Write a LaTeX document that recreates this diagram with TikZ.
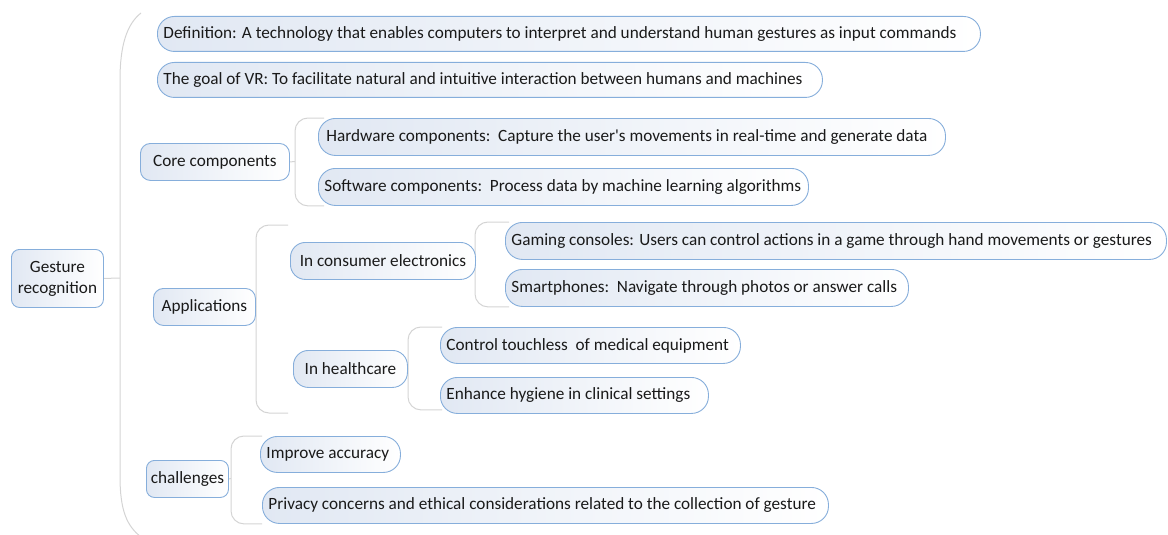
\documentclass[tikz,border=0pt]{standalone}
\usepackage{fontspec}
\setmainfont{Carlito}
\usetikzlibrary{backgrounds,calc}

\definecolor{edgeblue}{HTML}{86AEDB}
\definecolor{tint}{HTML}{E1E8F3}
\definecolor{bracegray}{HTML}{D4D4D4}
\definecolor{ink}{HTML}{1A1A1A}

% left-aligned label of a given box width (in pt)
\newcommand\lefttext[2]{\makebox[#1pt][l]{\hspace{6pt}#2}}

\tikzset{
  box/.style={draw=edgeblue, line width=0.9pt, left color=tint, right color=white,
    text=ink, font=\fontsize{17.2}{20}\selectfont, inner sep=0pt, anchor=north west},
  leaf/.style={box, rounded corners=17pt},
  topic/.style={box, rounded corners=10pt},
  brace/.style={draw=bracegray, line width=1pt, rounded corners=13pt},
  stub/.style={draw=bracegray, line width=1pt},
}

\begin{document}
\begin{tikzpicture}[x=1pt, y=-1pt]
\useasboundingbox (0,0) rectangle (1168,535);

% root
\node[box, rounded corners=8pt, minimum width=92, minimum height=58, align=center,
      font=\fontsize{17.2}{21}\selectfont] (root) at (11,249) {Gesture\\recognition};

% first level
\node[leaf, minimum width=823, minimum height=35] (def) at (157,16)
  {\lefttext{823}{Definition: A technology that enables computers to interpret and understand human gestures as input commands}};
\node[leaf, minimum width=665, minimum height=35] (goal) at (157,62)
  {\lefttext{665}{The goal of VR: To facilitate natural and intuitive interaction between humans and machines}};
\node[topic, minimum width=149, minimum height=37] (core) at (140,143) {Core components};
\node[topic, minimum width=102, minimum height=37] (app) at (153,288) {Applications};
\node[topic, rounded corners=8pt, minimum width=82, minimum height=37] (chal) at (146,460) {challenges};

% core components
\node[leaf, minimum width=627, minimum height=37] (hw) at (318,118)
  {\lefttext{627}{\hspace{2pt}Hardware components:\ \ Capture the user\textquotesingle s movements in real-time and generate data}};
\node[leaf, minimum width=490, minimum height=37] (sw) at (318,168)
  {\lefttext{490}{Software components:\ \ Process data by machine learning algorithms}};

% applications
\node[topic, rounded corners=15pt, minimum width=185, minimum height=37] (cons) at (290,242) {In consumer electronics};
\node[topic, rounded corners=15pt, minimum width=114, minimum height=37] (health) at (293,350) {In healthcare};
\node[leaf, minimum width=661, minimum height=37] (game) at (505,222)
  {\lefttext{661}{Gaming consoles: Users can control actions in a game through hand movements or gestures}};
\node[leaf, minimum width=403, minimum height=37] (phone) at (505,269)
  {\lefttext{403}{Smartphones:\ \ Navigate through photos or answer calls}};
\node[leaf, minimum width=300, minimum height=36] (touch) at (440,327)
  {\lefttext{300}{Control touchless\ \ of medical equipment}};
\node[leaf, minimum width=268, minimum height=36] (hyg) at (440,377)
  {\lefttext{268}{Enhance hygiene in clinical settings}};

% challenges
\node[leaf, minimum width=140, minimum height=36] (acc) at (260,436)
  {\lefttext{140}{Improve accuracy}};
\node[leaf, minimum width=566, minimum height=36] (priv) at (262,487)
  {\lefttext{566}{Privacy concerns and ethical considerations related to the collection of gesture}};

% bracket spines and free ends
\coordinate (s0) at (120,278);
\coordinate (s0t) at (141,13);
\coordinate (s0b) at (141,537);
\coordinate (s1) at (295,161.5);
\coordinate (s2) at (256,306.5);
\coordinate (s2t) at (288,225);
\coordinate (s2b) at (288,413);
\coordinate (s3) at (475,260.5);
\coordinate (s4) at (408,368.5);
\coordinate (s5) at (231,478.5);

\begin{scope}[on background layer]
  % main bracket
  \draw[stub] (root.east) -- (s0);
  \draw[draw=bracegray, line width=1pt]
    (s0t) .. controls (127,24) and (120,45) .. (120,80) -- (s0)
    -- (120,476) .. controls (120,511) and (127,526) .. (s0b);
  % core components
  \draw[stub] (core.east) -- (s1);
  \draw[brace] ($(hw.north west)+(6,0)$) -| (s1) |- ($(sw.south west)+(6,0)$);
  % applications
  \draw[stub] (app.east) -- (s2);
  \draw[brace] (s2t) -| (s2) |- (s2b);
  % consumer electronics
  \draw[stub] (cons.east) -- (s3);
  \draw[brace] ($(game.north west)+(4,0)$) -| (s3) |- ($(phone.south west)+(4,0)$);
  % healthcare
  \draw[stub] (health.east) -- (s4);
  \draw[brace] ($(touch.north west)+(2,0)$) -| (s4) |- ($(hyg.south west)+(2,-4)$);
  % challenges
  \draw[stub] (chal.east) -- (s5);
  \draw[brace] ($(acc.north west)+(2,0)$) -| (s5) |- ($(priv.south west)+(0,0)$);
\end{scope}
\end{tikzpicture}
\end{document}
